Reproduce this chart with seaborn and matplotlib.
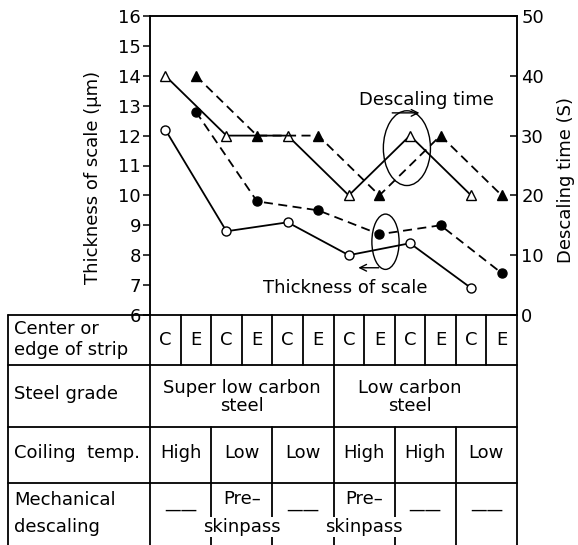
"""Scale thickness and descaling time by strip position, steel grade and process."""

import matplotlib

matplotlib.use("Agg")
import matplotlib.pyplot as plt
import seaborn as sns
from matplotlib.patches import Ellipse

sns.set_theme(
    style="ticks",
    rc={
        "axes.edgecolor": "black",
        "xtick.color": "black",
        "ytick.color": "black",
        "text.color": "black",
        "axes.labelcolor": "black",
    },
)
plt.rcParams["font.family"] = ["DejaVu Sans"]

# data: C = center of strip, E = edge of strip
center_cols = [1, 3, 5, 7, 9, 11]
edge_cols = [2, 4, 6, 8, 10, 12]
thick_center = [12.2, 8.8, 9.1, 8.0, 8.4, 6.9]
thick_edge = [12.8, 9.8, 9.5, 8.7, 9.0, 7.4]
time_center = [40, 30, 30, 20, 30, 20]
time_edge = [40, 30, 30, 20, 30, 20]

strip_labels = ["C", "E"] * 6
grade_labels = [("Super low carbon", "steel"), ("Low carbon", "steel")]
coiling_labels = ["High", "Low", "Low", "High", "High", "Low"]
mech_labels = ["——", ("Pre–", "skinpass"), "——", ("Pre–", "skinpass"), "——", "——"]

W, H = 578, 545
FS = 13
LW = 1.3

fig = plt.figure(figsize=(W / 100, H / 100), dpi=100)
ax = fig.add_axes([150 / W, 230 / H, 367 / W, 299 / H])
ax2 = ax.twinx()

mk = dict(color="black", linewidth=LW, markeredgecolor="black", markeredgewidth=1.0)
dashed = (0, (5, 3))
sns.lineplot(x=center_cols, y=thick_center, ax=ax, marker="o", markersize=6.5,
             markerfacecolor="white", **mk)
sns.lineplot(x=edge_cols, y=thick_edge, ax=ax, marker="o", markersize=6.5,
             markerfacecolor="black", linestyle=dashed, **mk)
sns.lineplot(x=center_cols, y=time_center, ax=ax2, marker="^", markersize=6.5,
             markerfacecolor="white", **mk)
sns.lineplot(x=edge_cols, y=time_edge, ax=ax2, marker="^", markersize=6.5,
             markerfacecolor="black", linestyle=dashed, **mk)

ax.set_xlim(0.5, 12.5)
ax.set_xticks([])
ax.set_ylim(6, 16)
ax.set_yticks(range(6, 17))
ax.tick_params(axis="y", direction="out", length=5, width=1.1, pad=1.5, labelsize=FS)
ax2.set_ylim(0, 50)
ax2.set_yticks(range(0, 51, 10))
ax2.tick_params(axis="y", direction="in", length=5, width=1.1, pad=3, labelsize=FS)
for a in (ax, ax2):
    for side, sp in a.spines.items():
        sp.set_linewidth(1.1)
        sp.set_visible(side != "bottom")

ax.set_ylabel("Thickness of scale (μm)", fontsize=FS)
ax.yaxis.set_label_coords(-0.13, 0.46)
ax2.set_ylabel("Descaling time (S)", fontsize=FS)
ax2.yaxis.set_label_coords(1.11, 0.45)

# annotations
ax2.add_patch(Ellipse((8.9, 27.9), 1.54, 12.5, fill=False, lw=1, ec="black"))
ax2.annotate("", xy=(9.4, 33.8), xytext=(8.33, 33.8),
             arrowprops=dict(arrowstyle="->", lw=1, color="black"))
ax2.text(9.55, 36.0, "Descaling time", ha="center", va="center", fontsize=FS)
ax.add_patch(Ellipse((8.2, 8.45), 0.89, 1.85, fill=False, lw=1, ec="black"))
ax.annotate("", xy=(7.22, 7.58), xytext=(8.07, 7.58),
            arrowprops=dict(arrowstyle="->", lw=1, color="black"))
ax.text(6.9, 6.9, "Thickness of scale", ha="center", va="center", fontsize=FS)

# table under the chart: x in column units, y in pixels from table top
colw = 367 / 12
x0 = 0.5 - (150 - 8) / colw
tab = fig.add_axes([8 / W, 0, (517 - 8) / W, 230 / H])
tab.set_xlim(x0, 12.5)
tab.set_ylim(230, 0)
tab.axis("off")
rows = [0, 50, 112, 168, 230]


def hline(y):
    tab.plot([x0, 12.5], [y, y], color="black", lw=LW, clip_on=False)


def vline(x, y1, y2):
    tab.plot([x, x], [y1, y2], color="black", lw=LW, clip_on=False, zorder=1)


for y in rows[:-1]:
    hline(y)
for x in (x0, 0.5, 12.5):
    vline(x, 0, 230)
for x in range(1, 12):
    vline(x + 0.5, 0, 50)
vline(6.5, 50, 112)
for x in (2.5, 4.5, 6.5, 8.5, 10.5):
    vline(x, 112, 230)

lx = x0 + 0.2
tab.text(lx, 14, "Center or", ha="left", va="center", fontsize=FS)
tab.text(lx, 35, "edge of strip", ha="left", va="center", fontsize=FS)
tab.text(lx, 79, "Steel grade", ha="left", va="center", fontsize=FS)
tab.text(lx, 138, "Coiling  temp.", ha="left", va="center", fontsize=FS)
tab.text(lx, 185, "Mechanical", ha="left", va="center", fontsize=FS)
tab.text(lx, 212, "descaling", ha="left", va="center", fontsize=FS)

for i, lab in enumerate(strip_labels):
    tab.text(i + 1, 25, lab, ha="center", va="center", fontsize=FS)

for cx, (top, bottom) in zip([3.5, 9.0], grade_labels):
    tab.text(cx, 73, top, ha="center", va="center", fontsize=FS)
    tab.text(cx, 91, bottom, ha="center", va="center", fontsize=FS)

for i, lab in enumerate(coiling_labels):
    tab.text(2 * i + 1.5, 138, lab, ha="center", va="center", fontsize=FS)

for i, lab in enumerate(mech_labels):
    cx = 2 * i + 1.5
    if isinstance(lab, tuple):
        tab.text(cx, 184, lab[0], ha="center", va="center", fontsize=FS)
        tab.text(cx, 212, lab[1], ha="center", va="center", fontsize=FS, zorder=3,
                 bbox=dict(boxstyle="square,pad=0.05", fc="white", ec="none"))
    else:
        tab.text(cx, 195, lab, ha="center", va="center", fontsize=12)

fig.savefig("out.png", dpi=100)
